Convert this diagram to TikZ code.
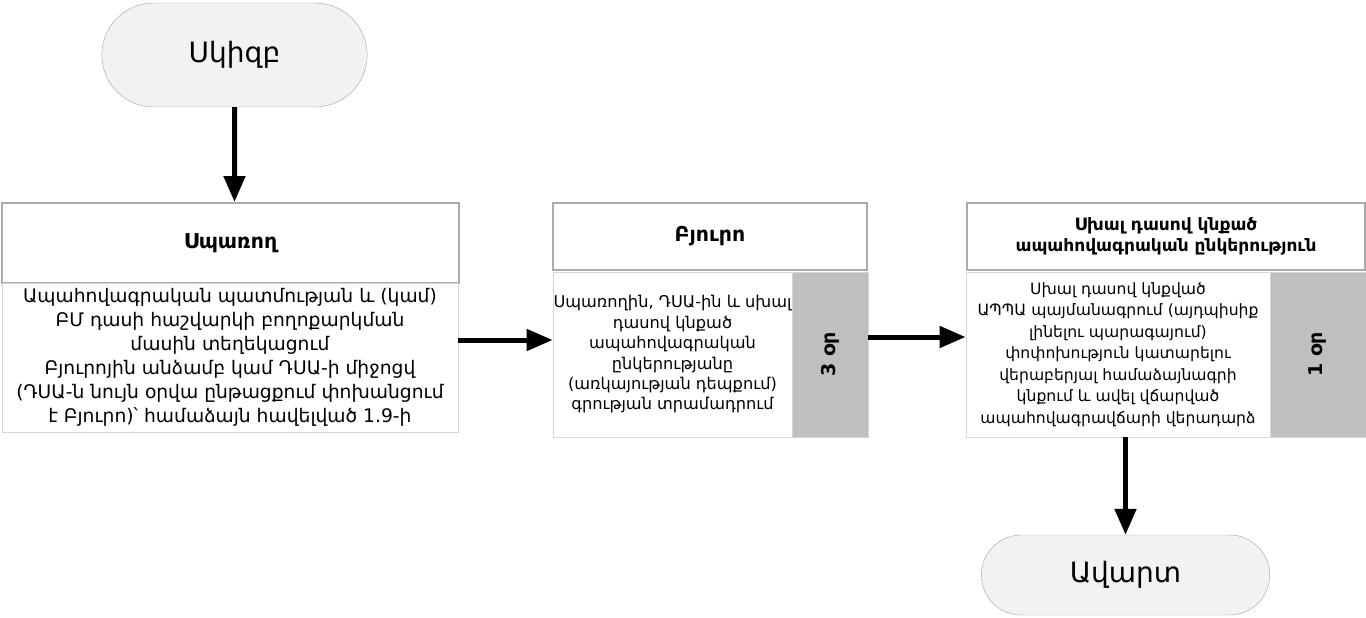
\documentclass[tikz,border=0pt]{standalone}
\usepackage{fontspec}
\setmainfont{DejaVu Sans}
\usepackage{tikz}
\usetikzlibrary{arrows.meta,shapes.misc}
\definecolor{termfill}{HTML}{F2F2F2}
\definecolor{termline}{HTML}{A0A0A0}
\definecolor{headline}{HTML}{ABABAB}
\definecolor{bodyline}{HTML}{D6D6D6}
\definecolor{bargray}{HTML}{BFBFBF}

\begin{document}
\begin{tikzpicture}[x=1pt,y=-1pt]
\tikzset{terminal/.style = {shape=rounded rectangle,draw=termline,fill=termfill,
  font=\fontsize{28}{34}\selectfont}}
\tikzset{head/.style = {shape=rectangle,draw=headline,line width=2pt,fill=white,
  align=center,font=\bfseries\fontsize{20.5}{24}\selectfont}}
\tikzset{body/.style = {shape=rectangle,draw=bodyline,line width=0.8pt,fill=white,
  align=center,inner sep=0pt}}
\tikzset{bar/.style = {shape=rectangle,draw=bodyline,fill=bargray,rotate=90,
  font=\bfseries\fontsize{19}{22}\selectfont}}
\tikzset{edge/.style = {-{Triangle[length=26pt,width=21pt]},line width=5pt}}
\useasboundingbox (0,0) rectangle (1366,618);
% terminals
\node[terminal,minimum width=272pt,minimum height=104pt] (start) at (234.5,55) {Սկիզբ};
\node[terminal,minimum width=295pt,minimum height=80pt] (stop) at (1125.5,575) {Ավարտ};
% consumer
\node[head,minimum width=457pt,minimum height=80pt] (headA) at (230.5,243) {Սպառող};
\node[body,minimum width=456pt,minimum height=149pt,font=\fontsize{18.7}{24}\selectfont] (bodyA) at (230,357.5)
  {Ապահովագրական պատմության և (կամ)\\ ԲՄ դասի հաշվարկի բողոքարկման\\ մասին տեղեկացում\\
   Բյուրոյին անձամբ կամ ԴՍԱ-ի միջոցվ\\ (ԴՍԱ-ն նույն օրվա ընթացքում փոխանցում\\ է Բյուրո)՝ համաձայն հավելված 1.9-ի};
% bureau
\node[head,minimum width=314pt,minimum height=67pt] (headB) at (710,236.5) {Բյուրո};
\node[body,minimum width=239pt,minimum height=165pt,font=\fontsize{16.2}{20.4}\selectfont] (bodyB) at (672.5,354.5)
  {Սպառողին, ԴՍԱ-ին և սխալ\\ դասով կնքած\\ ապահովագրական\\ ընկերությանը\\ (առկայության դեպքում)\\ գրության տրամադրում};
\node[bar,minimum width=165pt,minimum height=76pt] (barB) at (830,354.5) {3 օր};
% insurer
\node[head,minimum width=398pt,minimum height=67pt,font=\bfseries\fontsize{17}{21}\selectfont] (headC) at (1166,236.5)
  {Սխալ դասով կնքած\\ ապահովագրական ընկերություն};
\node[body,minimum width=304pt,minimum height=165pt,font=\fontsize{15.6}{21.5}\selectfont] (bodyC) at (1118,354.5)
  {Սխալ դասով կնքված\\ ԱՊՊԱ պայմանագրում (այդպիսիք\\ լինելու պարագայում)\\ փոփոխություն կատարելու\\
   վերաբերյալ համաձայնագրի\\ կնքում և ավել վճարված\\ ապահովագրավճարի վերադարձ};
\node[bar,minimum width=165pt,minimum height=96pt] (barC) at (1318,354.5) {1 օր};
% edges
\draw[edge] (start) -- (start |- headA.north);
\draw[edge] ([yshift=17.5pt]bodyA.east) -- ([yshift=14.5pt]bodyB.west);
\draw[edge] ([yshift=17.5pt]barB.south) -- ([yshift=17.5pt]bodyC.west);
\draw[edge] (bodyC.south -| stop.north) -- (stop.north);
\end{tikzpicture}
\end{document}
